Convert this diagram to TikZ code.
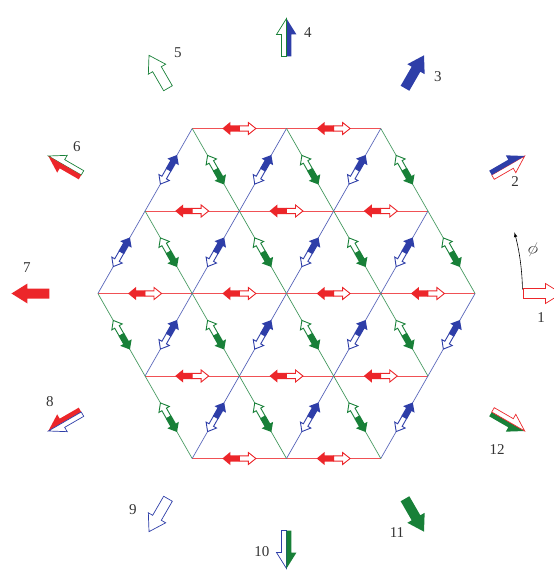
\documentclass[tikz,border=0pt]{standalone}
\usepackage{fontspec}
\setmainfont{Liberation Serif}
\usetikzlibrary{positioning}

\definecolor{bondred}{RGB}{236,38,42}
\definecolor{bondblue}{RGB}{46,62,168}
\definecolor{bondgreen}{RGB}{24,128,56}

\tikzset{
  redbond/.style={draw=bondred!80, line width=.7pt},
  bluebond/.style={draw=bondblue!80, line width=.7pt},
  greenbond/.style={draw=bondgreen!80, line width=.7pt},
  on bond/.style={midway, sloped, allow upside down},
  % double spin arrow sitting on a bond
  pics/spin/.style={code={
    \draw[#1, fill=white, line width=.9pt] (0,-2.6) -- (-9,-2.6) -- (-9,-6) -- (-16.5,0) -- (-9,6) -- (-9,2.6) -- (0,2.6) -- cycle;
    \fill[#1] (0,-3.2) -- (9,-3.2) -- (9,-6.6) -- (17,0) -- (9,6.6) -- (9,3.2) -- (0,3.2) -- cycle;
  }},
  % big arrows round the lattice
  redopen/.style={draw=bondred, fill=white, line width=.7pt},
  blueopen/.style={draw=bondblue, fill=white, line width=.7pt},
  greenopen/.style={draw=bondgreen, fill=white, line width=.7pt},
  redfull/.style={fill=bondred},
  bluefull/.style={fill=bondblue},
  greenfull/.style={fill=bondgreen},
  pics/bigarrow/.style={code={
    \path[#1] (-19,-5) -- (3,-5) -- (3,-10) -- (19,0) -- (3,10) -- (3,5) -- (-19,5) -- cycle;
  }},
  pics/halfarrow/.style 2 args={code={
    \path[#1] (-19,0) -- (19,0) -- (3,-10) -- (3,-5) -- (-19,-5) -- cycle;
    \path[#2] (-19,0) -- (19,0) -- (3,10) -- (3,5) -- (-19,5) -- cycle;
  }},
  num/.style={inner sep=0pt, text=black!80, font=\fontsize{15}{18}\selectfont},
}

\begin{document}
\begin{tikzpicture}[x=1pt, y=1pt]
  \useasboundingbox (-286.5,-277.5) rectangle (267.5,293.5);

  % lattice sites
  \foreach \i/\n in {0/3,1/4,2/5,3/4,4/3}
    \foreach \k in {1,...,\n}
      \coordinate (v\i-\k) at ({(\k-(\n+1)/2)*94.3}, {(2-\i)*82.5});

  % bonds
  \foreach \i/\n in {0/3,1/4,2/5,3/4,4/3}
    \foreach \k in {2,...,\n}{
      \pgfmathtruncatemacro\j{\k-1}
      \draw[redbond] (v\i-\k) -- (v\i-\j);
    }
  \foreach \i/\n in {0/3,1/4}{
    \pgfmathtruncatemacro\ii{\i+1}
    \foreach \k in {1,...,\n}{
      \pgfmathtruncatemacro\kk{\k+1}
      \draw[bluebond] (v\ii-\k) -- (v\i-\k);
      \draw[greenbond] (v\i-\k) -- (v\ii-\kk);
    }
  }
  \foreach \i/\n in {2/5,3/4}{
    \pgfmathtruncatemacro\ii{\i+1}
    \foreach \k in {2,...,\n}{
      \pgfmathtruncatemacro\j{\k-1}
      \draw[bluebond] (v\ii-\j) -- (v\i-\k);
      \draw[greenbond] (v\i-\j) -- (v\ii-\j);
    }
  }

  % spins on the bonds
  \foreach \i/\n in {0/3,1/4,2/5,3/4,4/3}
    \foreach \k in {2,...,\n}{
      \pgfmathtruncatemacro\j{\k-1}
      \path (v\i-\k) -- (v\i-\j) pic[on bond]{spin=bondred};
    }
  \foreach \i/\n in {0/3,1/4}{
    \pgfmathtruncatemacro\ii{\i+1}
    \foreach \k in {1,...,\n}{
      \pgfmathtruncatemacro\kk{\k+1}
      \path (v\ii-\k) -- (v\i-\k) pic[on bond]{spin=bondblue};
      \path (v\i-\k) -- (v\ii-\kk) pic[on bond]{spin=bondgreen};
    }
  }
  \foreach \i/\n in {2/5,3/4}{
    \pgfmathtruncatemacro\ii{\i+1}
    \foreach \k in {2,...,\n}{
      \pgfmathtruncatemacro\j{\k-1}
      \path (v\ii-\j) -- (v\i-\k) pic[on bond]{spin=bondblue};
      \path (v\i-\j) -- (v\ii-\j) pic[on bond]{spin=bondgreen};
    }
  }

  % the twelve directions
  \foreach \n/\ang/\st/\dx/\dy in {1/0/redopen/-1.5/-24.5, 3/60/bluefull/23.5/-5,
      5/120/greenopen/19.5/18.8, 7/180/redfull/-3.5/25.5,
      9/240/blueopen/-25.5/5.2, 11/300/greenfull/-17.5/-17.8}{
    \coordinate (a\n) at (\ang:256);
    \pic[rotate=\ang] at (a\n) {bigarrow=\st};
    \node[num] (l\n) at ([shift={(\dx,\dy)}]a\n) {\n};
  }
  \foreach \n/\ang/\lo/\up/\dx/\dy in {2/30/redopen/bluefull/6.8/-16.5,
      4/90/bluefull/greenopen/21.5/4.5, 6/150/greenopen/redfull/12.2/18.5,
      8/210/redfull/blueopen/-14.8/19.5, 10/270/blueopen/greenfull/-24.5/-2.5,
      12/330/greenfull/redopen/-11.2/-28.5}{
    \coordinate (a\n) at (\ang:256);
    \pic[rotate=\ang] at (a\n) {halfarrow={\lo}{\up}};
    \node[num] (l\n) at ([shift={(\dx,\dy)}]a\n) {\n};
  }

  % angle phi
  \coordinate (phi0) at (1:236);
  \coordinate (phi1) at (15:236);
  \draw[-latex, line width=.6pt] (phi0) arc[start angle=1, end angle=15, radius=236];
  \node[num, font=\fontsize{18}{20}\selectfont, rotate=-15] (phi) at (246.5,43.5) {$\phi$};
\end{tikzpicture}
\end{document}
